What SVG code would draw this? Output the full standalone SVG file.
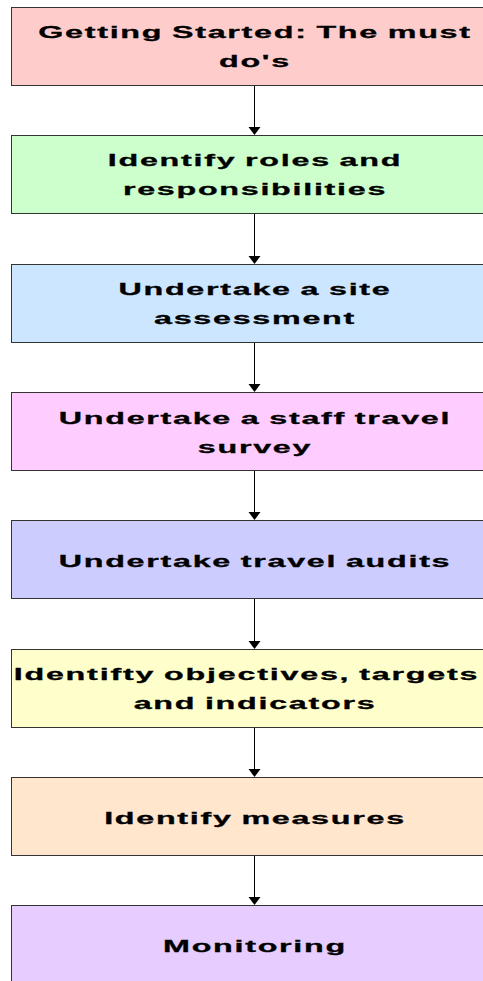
<svg xmlns="http://www.w3.org/2000/svg" width="483" height="981" viewBox="0 0 483 981">
<style>
.box{stroke:#333333;stroke-width:1}
.t{font-family:"Liberation Sans",Arial,sans-serif;font-weight:bold;font-size:17px;fill:#000000;stroke:#000000;stroke-width:0.3;letter-spacing:0.9px;word-spacing:-1px;text-anchor:middle}
.c{stroke:#000000;stroke-width:1;fill:none}
.h{fill:#000000;stroke:none}
</style>
<rect width="483" height="981" fill="#ffffff"/>
<g id="connectors">
<line class="c" x1="254.5" y1="85.5" x2="254.5" y2="128"/><polygon class="h" points="248.5,127 260.5,127 254.5,135"/>
<line class="c" x1="254.5" y1="213.5" x2="254.5" y2="257"/><polygon class="h" points="248.5,256 260.5,256 254.5,264"/>
<line class="c" x1="254.5" y1="342.5" x2="254.5" y2="385"/><polygon class="h" points="248.5,384 260.5,384 254.5,392"/>
<line class="c" x1="254.5" y1="470.5" x2="254.5" y2="513"/><polygon class="h" points="248.5,512 260.5,512 254.5,520"/>
<line class="c" x1="254.5" y1="598.5" x2="254.5" y2="642"/><polygon class="h" points="248.5,641 260.5,641 254.5,649"/>
<line class="c" x1="254.5" y1="727.5" x2="254.5" y2="770"/><polygon class="h" points="248.5,769 260.5,769 254.5,777"/>
<line class="c" x1="254.5" y1="855.5" x2="254.5" y2="898"/><polygon class="h" points="248.5,897 260.5,897 254.5,905"/>
</g>
<g id="n1"><rect class="box" x="11.5" y="7.5" width="490" height="78" fill="#FFCCCC"/>
<text class="t" transform="scale(1.9 1)" x="134.2" y="38">Getting Started: The must</text>
<text class="t" transform="scale(1.9 1)" x="134.2" y="67">do's</text></g>
<g id="n2"><rect class="box" x="11.5" y="135.5" width="490" height="78" fill="#CCFFCC"/>
<text class="t" transform="scale(1.9 1)" x="134.2" y="166">Identify roles and</text>
<text class="t" transform="scale(1.9 1)" x="134.2" y="195">responsibilities</text></g>
<g id="n3"><rect class="box" x="11.5" y="264.5" width="490" height="78" fill="#CCE6FF"/>
<text class="t" transform="scale(1.9 1)" x="134.2" y="295">Undertake a site</text>
<text class="t" transform="scale(1.9 1)" x="134.2" y="324">assessment</text></g>
<g id="n4"><rect class="box" x="11.5" y="392.5" width="490" height="78" fill="#FFCCFF"/>
<text class="t" transform="scale(1.9 1)" x="134.2" y="424">Undertake a staff travel</text>
<text class="t" transform="scale(1.9 1)" x="134.2" y="453">survey</text></g>
<g id="n5"><rect class="box" x="11.5" y="520.5" width="490" height="78" fill="#CCCCFF"/>
<text class="t" transform="scale(1.9 1)" x="134.2" y="567">Undertake travel audits</text></g>
<g id="n6"><rect class="box" x="11.5" y="649.5" width="490" height="78" fill="#FFFFCC"/>
<text class="t" transform="scale(1.9 1)" x="129.7" y="680" textLength="245" lengthAdjust="spacing">Identifty objectives, targets</text>
<text class="t" transform="scale(1.9 1)" x="134.2" y="709">and indicators</text></g>
<g id="n7"><rect class="box" x="11.5" y="777.5" width="490" height="78" fill="#FFE6CC"/>
<text class="t" transform="scale(1.9 1)" x="134.2" y="824">Identify measures</text></g>
<g id="n8"><rect class="box" x="11.5" y="905.5" width="490" height="78" fill="#E6CCFF"/>
<text class="t" transform="scale(1.9 1)" x="134.2" y="952">Monitoring</text></g>
</svg>
